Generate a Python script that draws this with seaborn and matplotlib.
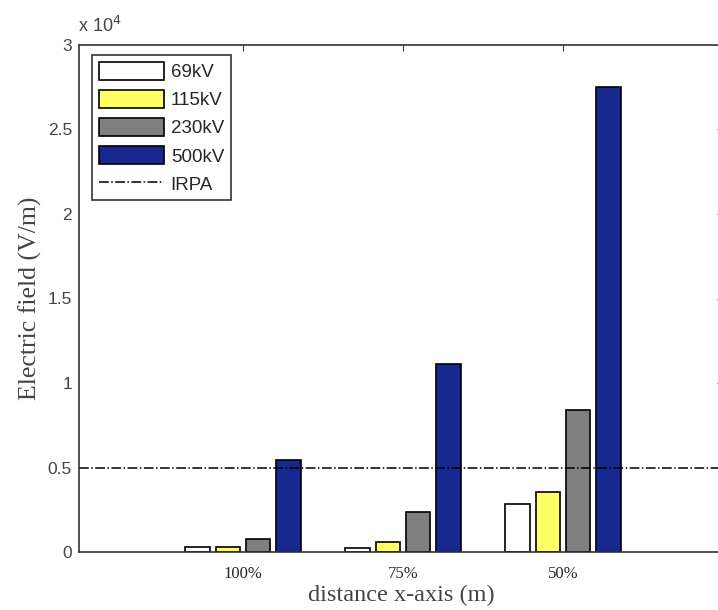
import pandas as pd
import matplotlib
matplotlib.use('Agg')
import matplotlib.pyplot as plt
from matplotlib.ticker import FuncFormatter
import seaborn as sns

# Reading data (values in V/m)
distances = ['100%', '75%', '50%']
voltages = ['69kV', '115kV', '230kV', '500kV']
field_69 = [300, 220, 2850]
field_115 = [300, 575, 3550]
field_230 = [750, 2350, 8400]
field_500 = [5450, 11100, 27500]
irpa_limit = 5000

bar_colors = ['#ffffff', '#ffff66', '#808080', '#172890']

df = pd.DataFrame({
    'distance': distances * 4,
    'voltage': [v for v in voltages for _ in distances],
    'field': field_69 + field_115 + field_230 + field_500})

sns.set_style('white')
plt.rcParams['font.family'] = ['Liberation Sans', 'DejaVu Sans']

fig = plt.figure(figsize=(7.18, 6.10), dpi=100)
ax = fig.add_axes([79 / 718, 58 / 610, 644 / 718, 507 / 610])

sns.barplot(data=df, x='distance', y='field', hue='voltage',
            order=distances, hue_order=voltages,
            palette=bar_colors, width=0.76, gap=0.2,
            edgecolor='black', linewidth=1.2, saturation=1,
            ax=ax)

ax.axhline(irpa_limit, color='black', linestyle='-.', linewidth=1.1,
           label='IRPA')

ax.set_xlim(-1.025, 3.0)
ax.set_ylim(0, 30000)
ax.set_yticks([0, 5000, 10000, 15000, 20000, 25000, 30000])
ax.yaxis.set_major_formatter(FuncFormatter(lambda v, p: '%g' % (v / 1e4)))
ax.tick_params(direction='in', top=True, right=True, length=4,
               color='#333333')
ax.tick_params(axis='y', labelsize=12.5, labelcolor='#444444', pad=5)
ax.tick_params(axis='x', pad=10)
for lbl in ax.get_xticklabels():
    lbl.set_fontfamily('Liberation Serif')
    lbl.set_fontsize(12)
for s in ax.spines.values():
    s.set_color('#333333')
    s.set_linewidth(1.2)

ax.text(-0.002, 1.025, r'x 10$^4$', transform=ax.transAxes, fontsize=13,
        color='#444444')

ax.set_xlabel('distance x-axis (m)', fontfamily='Liberation Serif',
              fontsize=17.5, color='#444444', labelpad=2)
ax.set_ylabel('Electric field (V/m)', fontfamily='Liberation Serif',
              fontsize=18.5, color='#444444', labelpad=4)

handles, labels = ax.get_legend_handles_labels()
leg = ax.legend(handles, labels, loc='upper left',
                bbox_to_anchor=(13 / 644, 1 - 10 / 507), fontsize=13.5,
                frameon=True, fancybox=False, edgecolor='black',
                borderaxespad=0, handlelength=3.5, handleheight=1.1,
                handletextpad=0.35, labelspacing=0.47, borderpad=0.35)
leg.get_frame().set_linewidth(1.2)

fig.savefig('out.png', dpi=100)
